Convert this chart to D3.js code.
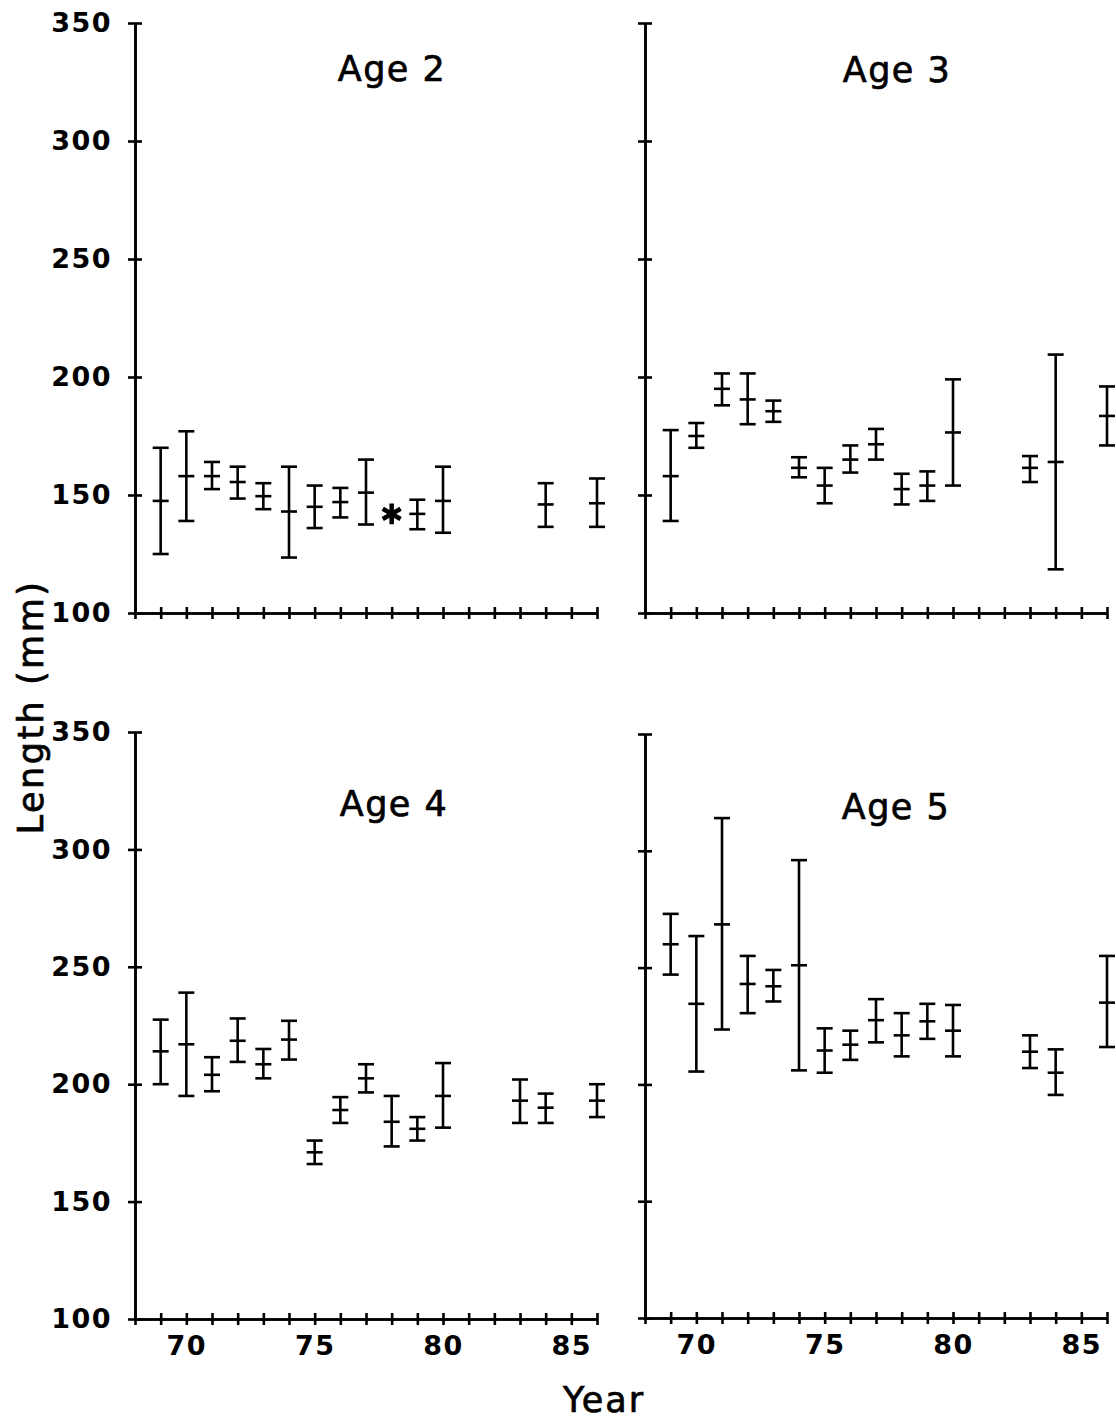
<!DOCTYPE html>
<html>
<head>
<meta charset="UTF-8">
<title>Length by year, ages 2-5</title>
<script src="https://d3js.org/d3.v7.min.js"></script>
<style>
  html, body { margin:0; padding:0; background:#fff; }
  svg { display:block; }
  .tick text { font-family:"DejaVu Sans", sans-serif; font-weight:bold; font-size:27px; fill:#000; letter-spacing:1.5px; }
  .ttl { font-family:"DejaVu Sans", sans-serif; font-size:35px; fill:#000; stroke:#000; stroke-width:0.7; }
</style>
</head>
<body>
<script>
// data (mean and range of length, mm)
const yearTicks = [68,69,70,71,72,73,74,75,76,77,78,79,80,81,82,83,84,85,86];
const yearLabels = [70, 75, 80, 85];
const lengthTicks = [100, 150, 200, 250, 300, 350];

const age2Years = [69,70,71,72,73,74,75,76,77,79,80,84,86];
const age2Mean  = [147.5,158,158,155.5,149.5,143,145,147,151,142,147.5,146,146.5];
const age2Low   = [125,139,152.5,148.5,144,123.5,136,140.5,137.5,135.5,134,136.5,136.5];
const age2High  = [170,177,164,162,155,162,154,153,165,148,162,155,157];
const age2StarYears  = [78];
const age2StarValues = [142];

const age3Years = [69,70,71,72,73,74,75,76,77,78,79,80,83,84,86];
const age3Mean  = [158,175,195,190.5,185.5,161.5,154,165,171.5,152.5,154,176.5,161.5,164,183.5];
const age3Low   = [139,170,188,180,181,157.5,146.5,159.5,165,146,147.5,154,155.5,118.5,171];
const age3High  = [177.5,180.5,201.5,201.5,190,166,161.5,171,178,159,160,199,166.5,209.5,196];

const age4Years = [69,70,71,72,73,74,75,76,77,78,79,80,83,84,86];
const age4Mean  = [214,217,204,218.5,208.5,219,171,189,202.5,184,181,195,193,190,193];
const age4Low   = [200,195,197,209.5,202.5,210.5,166,183.5,196.5,173.5,176,181.5,183.5,183.5,186];
const age4High  = [227.5,239,211.5,228,215,227,176,194.5,208.5,195,186,209,202,196,200];

const age5Years = [69,70,71,72,73,74,75,76,77,78,79,80,83,84,86];
const age5Mean  = [260,234.5,268.5,243,242,251,214.5,217,227.5,221,227,223,214,205,235];
const age5Low   = [247,205.5,223.5,230.5,235.5,206,205,210.5,218,212,219.5,212,207,195.5,216];
const age5High  = [273,263.5,314,255,249,296,224,223,236.5,230.5,234.5,234,221,215,255];

const W = 1116, H = 1423;
const svg = d3.select("body").append("svg")
    .attr("width", W).attr("height", H)
    .attr("viewBox", `0 0 ${W} ${H}`);
svg.append("rect").attr("width", W).attr("height", H).attr("fill", "#fff");

const panels = [
  { title:"Age 2", years:age2Years, mean:age2Mean, low:age2Low, high:age2High,
    starYears:age2StarYears, starValues:age2StarValues,
    left:135, right:597, top:23, bottom:613, yLab:true, xLab:false, tx:392, ty:81 },
  { title:"Age 3", years:age3Years, mean:age3Mean, low:age3Low, high:age3High,
    left:645, right:1107, top:23, bottom:613, yLab:false, xLab:false, tx:897, ty:82 },
  { title:"Age 4", years:age4Years, mean:age4Mean, low:age4Low, high:age4High,
    left:135, right:597, top:732, bottom:1319, yLab:true, xLab:true, tx:394, ty:816 },
  { title:"Age 5", years:age5Years, mean:age5Mean, low:age5Low, high:age5High,
    left:645, right:1107, top:734, bottom:1318, yLab:false, xLab:true, tx:896, ty:819 }
];

const capW = 8;

panels.forEach(p => {
  const x = d3.scaleLinear().domain([68, 86]).range([p.left, p.right]);
  const y = d3.scaleLinear().domain([100, 350]).range([p.bottom, p.top]);

  // y axis, ticks crossing the line
  svg.append("g").attr("transform", `translate(${p.left},0)`)
      .call(d3.axisLeft(y).tickValues(lengthTicks).tickSize(7).tickSizeOuter(0).tickPadding(16)
            .tickFormat(p.yLab ? d3.format("d") : ""));
  svg.append("g").attr("transform", `translate(${p.left},0)`)
      .call(d3.axisRight(y).tickValues(lengthTicks).tickSize(7).tickSizeOuter(0).tickFormat(""));

  // x axis, ticks crossing the line
  svg.append("g").attr("transform", `translate(0,${p.bottom})`)
      .call(d3.axisBottom(x).tickValues(yearTicks).tickSize(6).tickSizeOuter(0).tickPadding(11)
            .tickFormat(d => (p.xLab && yearLabels.includes(d)) ? d : ""));
  svg.append("g").attr("transform", `translate(0,${p.bottom})`)
      .call(d3.axisTop(x).tickValues(yearTicks).tickSize(6).tickSizeOuter(0).tickFormat(""));

  svg.selectAll(".domain").attr("stroke", "#000").attr("stroke-width", 2.6);
  svg.selectAll(".tick line").attr("stroke", "#000").attr("stroke-width", 2.6);

  svg.append("text").attr("class", "ttl")
      .attr("x", p.tx).attr("y", p.ty).attr("text-anchor", "middle")
      .attr("letter-spacing", 1.5)
      .text(p.title);

  const rows = p.years.map((yr, i) => ({ yr, m: p.mean[i], lo: p.low[i], hi: p.high[i] }));
  const g = svg.append("g").attr("stroke", "#000").attr("stroke-width", 2.6).attr("fill", "none");
  const bars = g.selectAll("g.bar").data(rows).join("g").attr("class", "bar");
  bars.append("line")
      .attr("x1", d => x(d.yr)).attr("x2", d => x(d.yr))
      .attr("y1", d => y(d.lo)).attr("y2", d => y(d.hi));
  ["lo", "hi", "m"].forEach(k => {
    bars.append("line")
        .attr("x1", d => x(d.yr) - capW).attr("x2", d => x(d.yr) + capW)
        .attr("y1", d => y(d[k])).attr("y2", d => y(d[k]));
  });

  if (p.starYears) {
    const sym = d3.symbol().type(d3.symbolAsterisk).size(300);
    svg.selectAll(null).data(p.starYears.map((yr, i) => ({ yr, v: p.starValues[i] })))
      .join("path")
      .attr("d", sym)
      .attr("transform", d => `translate(${x(d.yr)},${y(d.v)})`)
      .attr("stroke", "#000").attr("stroke-width", 4.5).attr("fill", "none");
  }
});

// shared axis titles
svg.append("text").attr("class", "ttl")
    .attr("transform", "translate(43,707) rotate(-90)")
    .attr("text-anchor", "middle").attr("letter-spacing", 2.5)
    .text("Length (mm)");
svg.append("text").attr("class", "ttl")
    .attr("x", 604).attr("y", 1412).attr("text-anchor", "middle").attr("letter-spacing", 2)
    .text("Year");
</script>
</body>
</html>
